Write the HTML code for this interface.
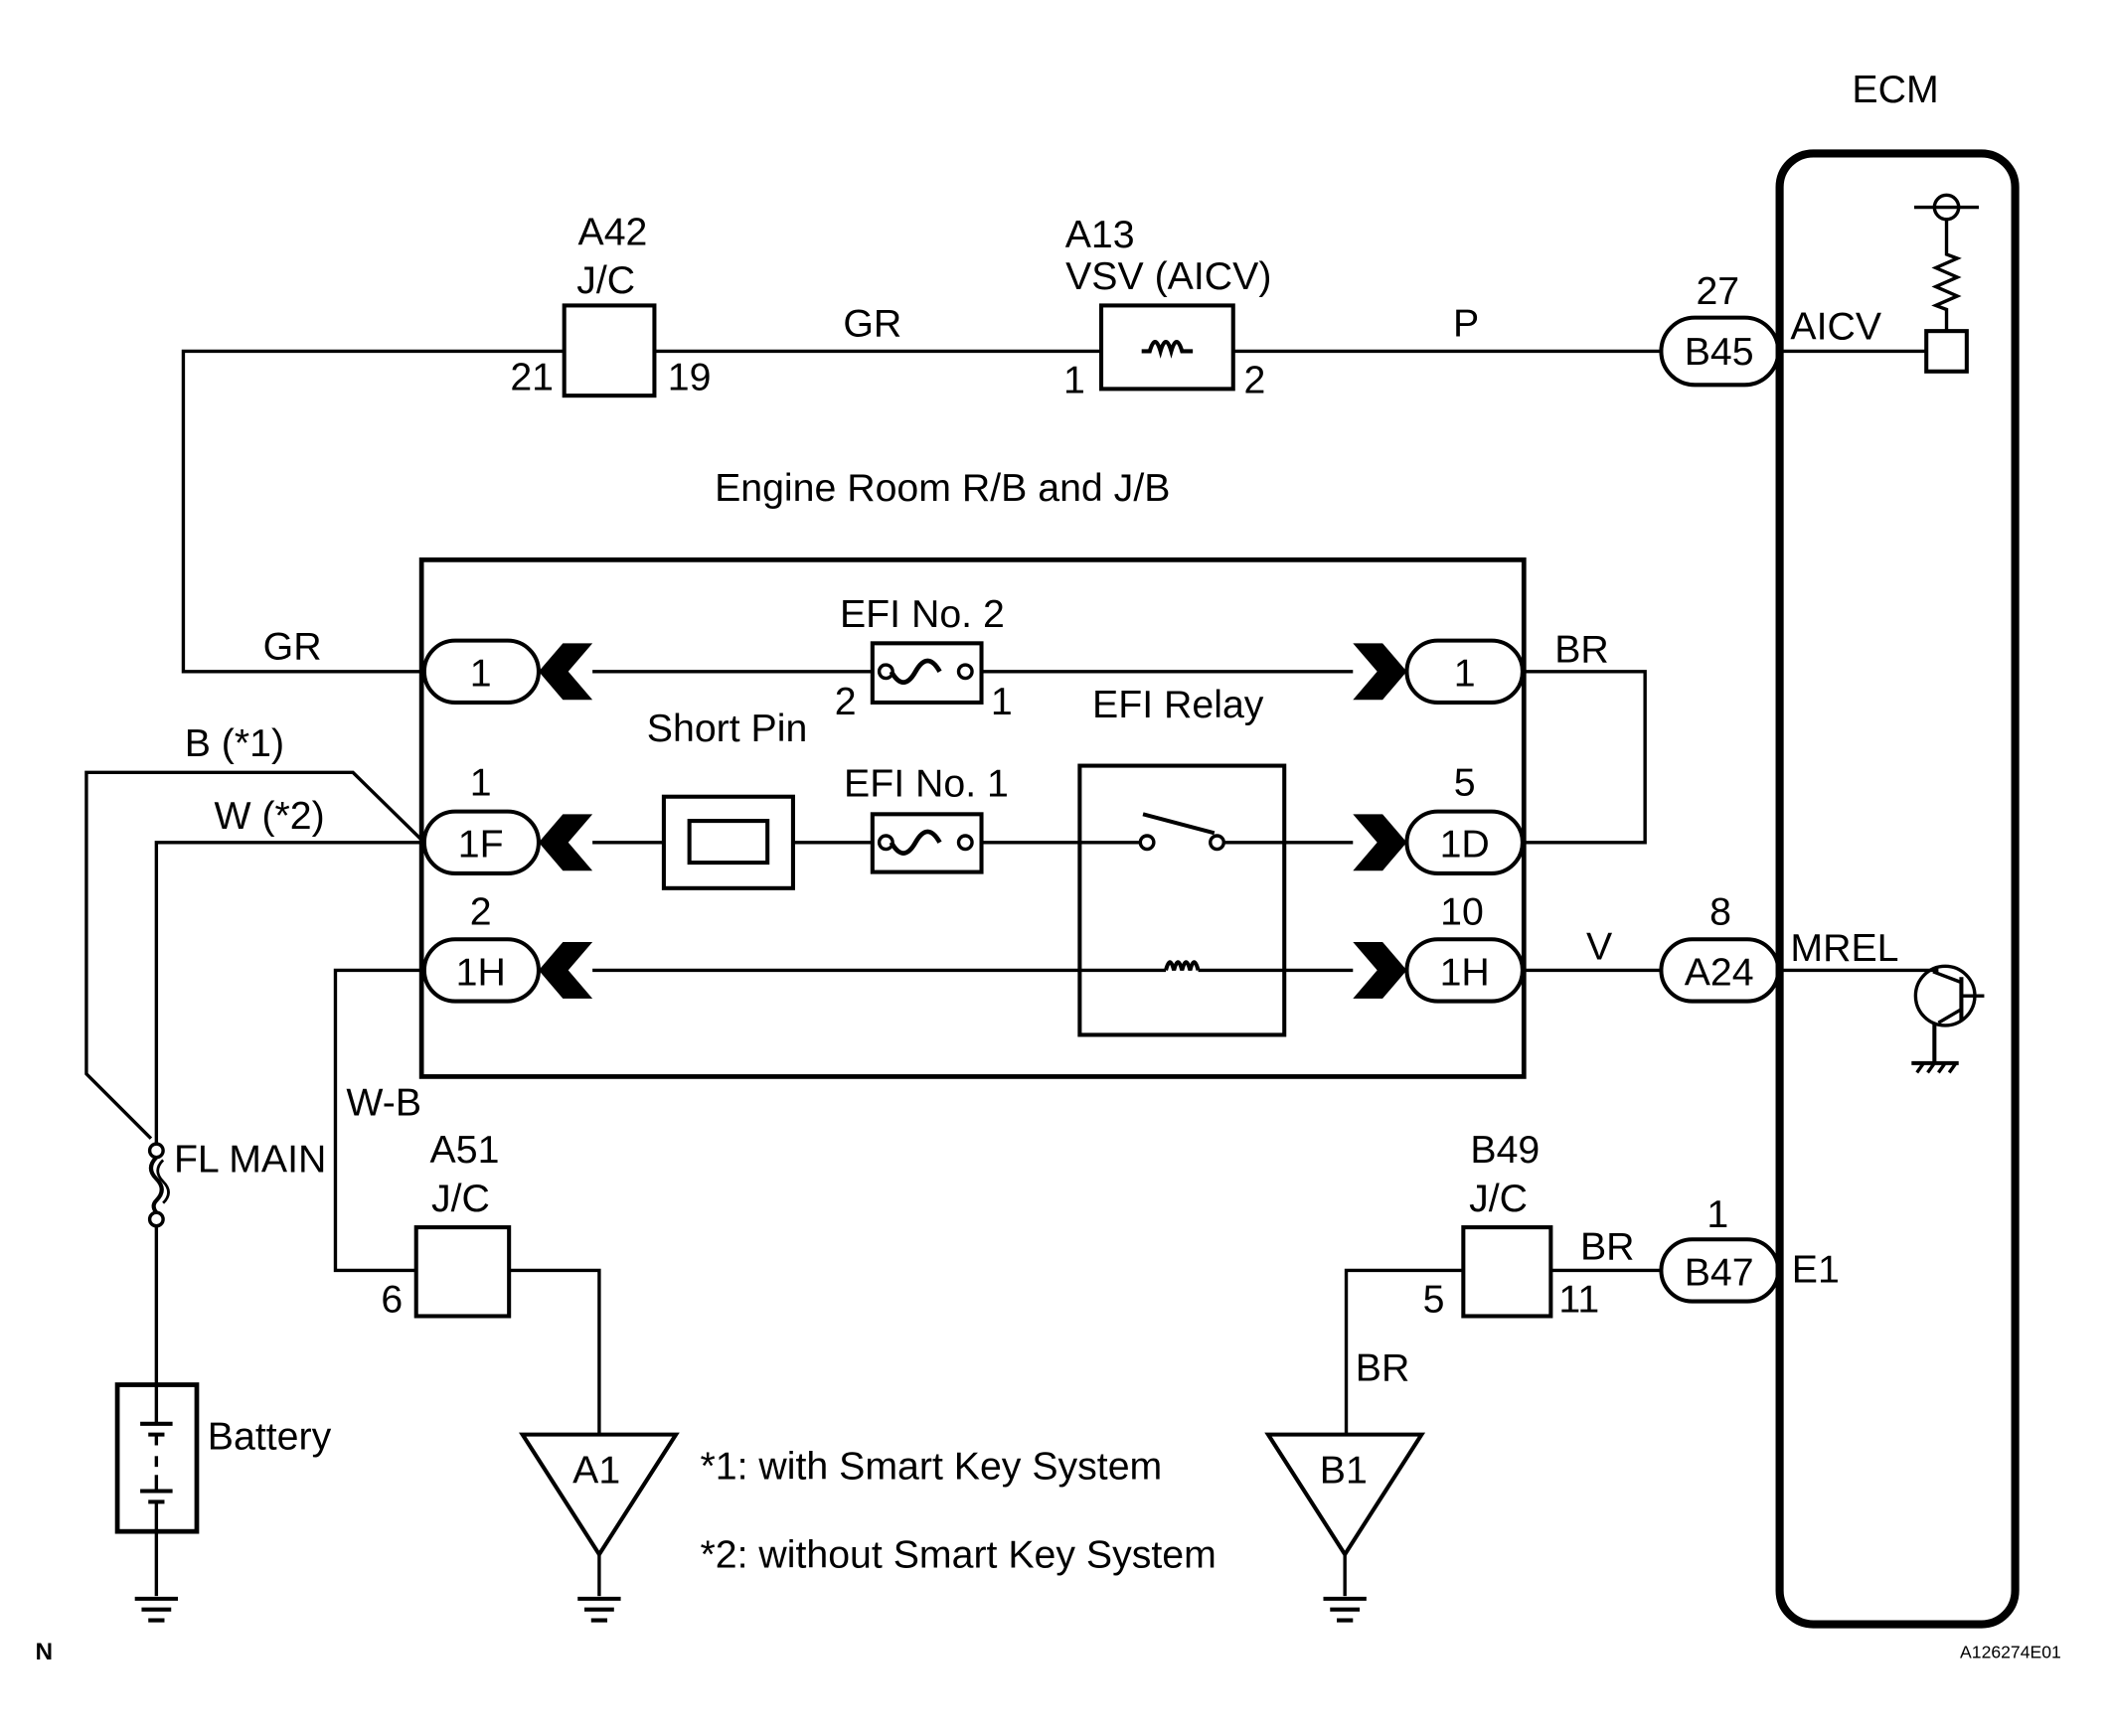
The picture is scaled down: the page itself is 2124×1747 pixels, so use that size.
<!DOCTYPE html>
<html><head><meta charset="utf-8"><style>
html,body{margin:0;padding:0;background:#fff}
svg{display:block}
text{font-family:"Liberation Sans",sans-serif;font-size:29px;fill:#000}
</style></head><body>
<svg width="2124" height="1747" viewBox="0 0 1568 1290" xmlns="http://www.w3.org/2000/svg">
<g fill="none" stroke="#000" stroke-width="2.5">
<polyline points="315,499 136,499 136,261 419,261"/>
<line x1="486" y1="261" x2="818" y2="261"/>
<line x1="916" y1="261" x2="1234" y2="261"/>
<rect x="419" y="227" width="67" height="67" stroke-width="3"/>
<rect x="818" y="227" width="98" height="62" stroke-width="3"/>
<path d="M848,261 h6 q4,-14 8,0 q4,-14 8,0 q4,-14 8,0 h8" stroke-width="3"/>
<rect x="1322" y="114" width="175" height="1093" rx="25" stroke-width="6"/>
<line x1="1320" y1="261" x2="1431" y2="261"/>
<rect x="1431" y="246" width="30" height="30" stroke-width="3"/>
<polyline points="1446,246 1446,230 1438,227 1454,220 1438,213 1454,206 1438,199 1454,192 1446,189 1446,163"/>
<circle cx="1446" cy="154" r="9"/>
<line x1="1422" y1="154" x2="1470" y2="154"/>
<line x1="1320" y1="721" x2="1440" y2="721"/>
<circle cx="1445" cy="740" r="22"/>
<line x1="1436" y1="722" x2="1457" y2="730"/>
<line x1="1457" y1="726" x2="1457" y2="758" stroke-width="3"/>
<line x1="1457" y1="740" x2="1474" y2="740"/>
<line x1="1457" y1="750" x2="1440" y2="760"/>
<line x1="1437" y1="760" x2="1437" y2="790" stroke-width="3"/>
<line x1="1420" y1="790" x2="1455" y2="790" stroke-width="3"/>
<path d="M1424,797 l5,-7 M1432,797 l5,-7 M1440,797 l5,-7 M1448,797 l5,-7"/>
<rect x="313" y="416" width="819" height="384" stroke-width="3.5"/>
<line x1="440" y1="499" x2="648" y2="499"/>
<line x1="729" y1="499" x2="1005" y2="499"/>
<rect x="648" y="478" width="81" height="44" stroke-width="3"/>
<path d="M662,499 q9,16 18,0 t18,0" stroke-width="3.5"/>
<circle cx="658" cy="499" r="5"/><circle cx="717" cy="499" r="5"/>
<polyline points="1131,499 1222,499 1222,626 1131,626"/>
<line x1="440" y1="626" x2="493" y2="626"/>
<line x1="589" y1="626" x2="648" y2="626"/>
<line x1="729" y1="626" x2="846" y2="626"/>
<line x1="910" y1="626" x2="1005" y2="626"/>
<rect x="493" y="592" width="96" height="68" stroke-width="3"/>
<rect x="512" y="610" width="58" height="31" stroke-width="3"/>
<rect x="648" y="605" width="81" height="43" stroke-width="3"/>
<path d="M662,626 q9,16 18,0 t18,0" stroke-width="3.5"/>
<circle cx="658" cy="626" r="5"/><circle cx="717" cy="626" r="5"/>
<rect x="802" y="569" width="152" height="200" stroke-width="3"/>
<circle cx="852" cy="626" r="5"/><circle cx="904" cy="626" r="5"/>
<line x1="849" y1="605" x2="902" y2="619" stroke-width="3"/>
<line x1="440" y1="721" x2="866" y2="721"/>
<line x1="890" y1="721" x2="1005" y2="721"/>
<path d="M866,721 q3,-12 6,0 q3,-12 6,0 q3,-12 6,0 q3,-12 6,0" stroke-width="3"/>
<line x1="1131" y1="721" x2="1234" y2="721"/>
<g stroke-width="3">
<rect x="315" y="476" width="85" height="46" rx="23"/>
<rect x="315" y="603" width="85" height="46" rx="23"/>
<rect x="315" y="698" width="85" height="46" rx="23"/>
<rect x="1045" y="476" width="86" height="46" rx="23"/>
<rect x="1045" y="603" width="86" height="46" rx="23"/>
<rect x="1045" y="698" width="86" height="46" rx="23"/>
<rect x="1234" y="236" width="87" height="50" rx="25"/>
<rect x="1234" y="698" width="87" height="46" rx="23"/>
<rect x="1234" y="921" width="87" height="46" rx="23"/>
</g>
<polyline points="315,626 262,574 64,574 64,798 112,846"/>
<polyline points="315,626 116,626 116,849"/>
<polyline points="315,721 249,721 249,944 309,944"/>
<rect x="309" y="912" width="69" height="66" stroke-width="3"/>
<polyline points="378,944 445,944 445,1066"/>
<circle cx="116" cy="855" r="5"/><circle cx="116" cy="906" r="5"/>
<path d="M116,860 q-8,8 0,16 q8,8 0,16 q-4,4 0,9" stroke-width="3"/>
<path d="M121,862 q-8,8 0,16 q8,8 0,16" stroke-width="2"/>
<line x1="116" y1="911" x2="116" y2="1029"/>
<rect x="87" y="1029" width="59" height="109" stroke-width="3.5"/>
<line x1="116" y1="1029" x2="116" y2="1058"/>
<line x1="104" y1="1058" x2="128" y2="1058" stroke-width="3"/>
<line x1="110" y1="1066" x2="122" y2="1066" stroke-width="3"/>
<line x1="116" y1="1066" x2="116" y2="1074"/>
<line x1="116" y1="1082" x2="116" y2="1090"/>
<line x1="116" y1="1096" x2="116" y2="1108"/>
<line x1="104" y1="1108" x2="128" y2="1108" stroke-width="3"/>
<line x1="110" y1="1116" x2="122" y2="1116" stroke-width="3"/>
<line x1="116" y1="1116" x2="116" y2="1186"/>
<line x1="100" y1="1188" x2="132" y2="1188" stroke-width="3"/>
<line x1="105" y1="1196" x2="127" y2="1196" stroke-width="3"/>
<line x1="110" y1="1204" x2="122" y2="1204" stroke-width="3"/>
<polygon points="388,1066 502,1066 445,1155" stroke-width="3"/>
<line x1="445" y1="1155" x2="445" y2="1186"/>
<line x1="429" y1="1188" x2="461" y2="1188" stroke-width="3"/>
<line x1="434" y1="1196" x2="456" y2="1196" stroke-width="3"/>
<line x1="439" y1="1204" x2="451" y2="1204" stroke-width="3"/>
<polygon points="942,1066 1056,1066 999,1155" stroke-width="3"/>
<line x1="999" y1="1155" x2="999" y2="1186"/>
<line x1="983" y1="1188" x2="1015" y2="1188" stroke-width="3"/>
<line x1="988" y1="1196" x2="1010" y2="1196" stroke-width="3"/>
<line x1="993" y1="1204" x2="1005" y2="1204" stroke-width="3"/>
<polyline points="1087,944 1000,944 1000,1066"/>
<rect x="1087" y="912" width="65" height="66" stroke-width="3"/>
<line x1="1152" y1="944" x2="1234" y2="944"/>
</g>
<g fill="#000">
<polygon points="400,499 418,478 440,478 422,499 440,520 418,520"/>
<polygon points="400,626 418,605 440,605 422,626 440,647 418,647"/>
<polygon points="400,721 418,700 440,700 422,721 440,742 418,742"/>
<polygon points="1005,478 1027,478 1045,499 1027,520 1005,520 1023,499"/>
<polygon points="1005,605 1027,605 1045,626 1027,647 1005,647 1023,626"/>
<polygon points="1005,700 1027,700 1045,721 1027,742 1005,742 1023,721"/>
</g>
<g text-anchor="middle">
<text x="1408" y="76">ECM</text>
<text x="455" y="182">A42</text>
<text x="450" y="218">J/C</text>
<text x="395" y="290">21</text>
<text x="512" y="290">19</text>
<text x="648" y="250">GR</text>
<text x="817" y="184">A13</text>
<text x="868" y="215">VSV (AICV)</text>
<text x="798" y="292">1</text>
<text x="932" y="292">2</text>
<text x="1089" y="250">P</text>
<text x="1276" y="226">27</text>
<text x="1277" y="271">B45</text>
<text x="700" y="372">Engine Room R/B and J/B</text>
<text x="217" y="490">GR</text>
<text x="357" y="510">1</text>
<text x="685" y="466">EFI No. 2</text>
<text x="628" y="531">2</text>
<text x="744" y="531">1</text>
<text x="1088" y="510">1</text>
<text x="1175" y="492">BR</text>
<text x="875" y="533">EFI Relay</text>
<text x="540" y="551">Short Pin</text>
<text x="174" y="562">B (*1)</text>
<text x="200" y="616">W (*2)</text>
<text x="357" y="591">1</text>
<text x="357" y="637">1F</text>
<text x="688" y="592">EFI No. 1</text>
<text x="1088" y="591">5</text>
<text x="1088" y="637">1D</text>
<text x="357" y="687">2</text>
<text x="357" y="732">1H</text>
<text x="1086" y="687">10</text>
<text x="1088" y="732">1H</text>
<text x="1188" y="713">V</text>
<text x="1278" y="687">8</text>
<text x="1277" y="732">A24</text>
<text x="285" y="829">W-B</text>
<text x="345" y="864">A51</text>
<text x="342" y="900">J/C</text>
<text x="291" y="975">6</text>
<text x="1118" y="864">B49</text>
<text x="1113" y="900">J/C</text>
<text x="1065" y="975">5</text>
<text x="1173" y="975">11</text>
<text x="1194" y="936">BR</text>
<text x="1276" y="912">1</text>
<text x="1277" y="955">B47</text>
<text x="1027" y="1026">BR</text>
<text x="443" y="1102">A1</text>
<text x="998" y="1102">B1</text>
</g>
<text x="1330" y="252">AICV</text>
<text x="1330" y="714">MREL</text>
<text x="1331" y="953">E1</text>
<text x="129" y="871">FL MAIN</text>
<text x="154" y="1077">Battery</text>
<text x="520" y="1099">*1: with Smart Key System</text>
<text x="520" y="1165">*2: without Smart Key System</text>
<text x="26" y="1233" style="font-size:18px;font-weight:bold">N</text>
<text x="1456" y="1232" style="font-size:13px">A126274E01</text>
</svg>
</body></html>
